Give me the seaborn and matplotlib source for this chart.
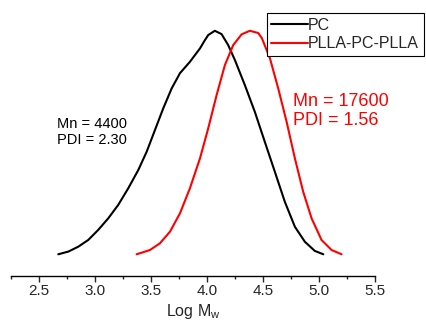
import numpy as np
import pandas as pd
import matplotlib
matplotlib.use("Agg")
import matplotlib.pyplot as plt
import seaborn as sns

# GPC traces (normalised height)
pc_logm = [2.672, 2.762, 2.851, 2.940, 3.029, 3.119, 3.208, 3.297, 3.387, 3.462,
           3.536, 3.610, 3.685, 3.759, 3.848, 3.938, 3.982, 4.012, 4.071, 4.131,
           4.190, 4.250, 4.339, 4.429, 4.518, 4.607, 4.696, 4.786, 4.875, 4.964,
           5.040]
pc_h = [0.000, 0.012, 0.034, 0.064, 0.109, 0.161, 0.221, 0.295, 0.377, 0.459,
        0.556, 0.653, 0.742, 0.810, 0.861, 0.921, 0.958, 0.981, 1.000, 0.985,
        0.936, 0.869, 0.757, 0.636, 0.502, 0.369, 0.235, 0.123, 0.056, 0.015,
        0.000]

tri_logm = [3.372, 3.491, 3.580, 3.670, 3.759, 3.848, 3.938, 4.012, 4.087, 4.161,
            4.235, 4.310, 4.384, 4.458, 4.491, 4.563, 4.637, 4.712, 4.786, 4.860,
            4.935, 5.024, 5.114, 5.203]
tri_h = [0.000, 0.019, 0.049, 0.101, 0.183, 0.295, 0.429, 0.564, 0.713, 0.847,
         0.936, 0.984, 1.000, 0.990, 0.967, 0.877, 0.742, 0.593, 0.429, 0.280,
         0.161, 0.064, 0.019, 0.000]

series = ["PC", "PLLA-PC-PLLA"]
colors = ["black", "#ff0000"]
xticks = [2.5, 3.0, 3.5, 4.0, 4.5, 5.0, 5.5]

df = pd.concat([
    pd.DataFrame({"logM": pc_logm, "h": pc_h, "sample": series[0]}),
    pd.DataFrame({"logM": tri_logm, "h": tri_h, "sample": series[1]}),
])

sns.set_style("ticks")
plt.rcParams["font.family"] = ["Liberation Sans", "DejaVu Sans"]
plt.rcParams["mathtext.fontset"] = "custom"
plt.rcParams["mathtext.rm"] = "Liberation Sans"

fig = plt.figure(figsize=(4.27, 3.22), dpi=100)
ax = fig.add_axes([0.0258, 0.143, 0.852, 0.826])

sns.lineplot(data=df, x="logM", y="h", hue="sample", palette=colors,
             sort=False, estimator=None, lw=1.5, ax=ax)

ax.set_xlim(2.25, 5.5)
ax.set_ylim(-0.097, 1.093)
ax.set_xticks(xticks)
ax.set_xticklabels([f"{t:.1f}" for t in xticks], fontsize=11)
ax.set_xticks(np.arange(2.25, 5.51, 0.25), minor=True)
ax.tick_params(axis="x", which="major", length=4, width=1, direction="out", pad=2)
ax.tick_params(axis="x", which="minor", length=2.5, width=1, direction="out")
ax.set_yticks([])
ax.set_ylabel("")
ax.set_xlabel(r"Log M$_\mathregular{w}$", fontsize=11.5, labelpad=2.5)
sns.despine(ax=ax, left=True)
ax.spines["bottom"].set_linewidth(1)
ax.spines["bottom"].set_color("black")

ax.text(2.663, 0.492, "Mn = 4400\nPDI = 2.30", fontsize=10.5, color="black",
        va="baseline", ha="left", linespacing=1.25)
ax.text(4.771, 0.578, "Mn = 17600\nPDI = 1.56", fontsize=13, color="#ff0000",
        va="baseline", ha="left", linespacing=1.15)

leg = ax.legend(loc="upper left", bbox_to_anchor=(0.6246, 0.9587),
                bbox_transform=fig.transFigure, borderaxespad=0, fontsize=11.5,
                handlelength=2.3, handletextpad=0.0, borderpad=0.3,
                labelspacing=0.2, fancybox=False, framealpha=1,
                edgecolor="black", title=None)
leg.get_frame().set_linewidth(0.8)

fig.savefig("out.png", dpi=100)
